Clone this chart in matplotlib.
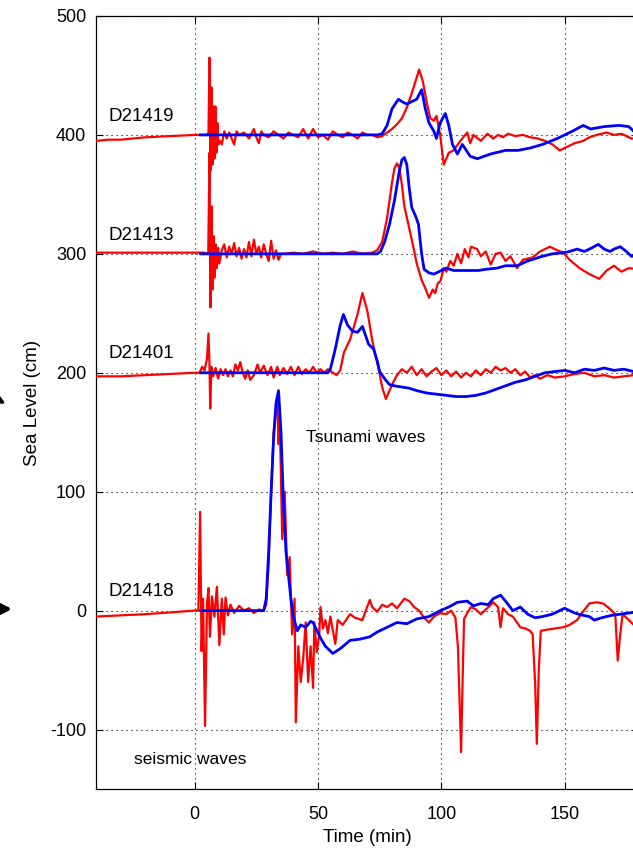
import matplotlib
matplotlib.use("Agg")
import matplotlib.pyplot as plt

plt.rcParams['font.family'] = ['Liberation Sans', 'DejaVu Sans']
plt.rcParams['axes.unicode_minus'] = False

# ---------------- data (values relative to each station's baseline) ----------------
stations = ["D21419", "D21413", "D21401", "D21418"]
offsets = [400, 300, 200, 0]

# observed (red) and model (blue) records, (time min, sea level cm)
d21419_obs = [(-40, -5), (-35, -4), (-30, -4), (-25, -3), (-20, -2), (-10, -1), (0, 0), (2, 0), (4, 0), (5, 0),
              (5.6, 2), (6, 65), (6.4, -30), (6.8, 40), (7.2, -25), (7.6, 24), (8.0, -20), (8.4, 24), (8.8, -15),
              (9.2, 10), (9.6, -8), (10.2, -5), (11, -8), (12, 3), (13, -3), (14, 2), (15, -3), (16, -8), (17, 3),
              (18, 0), (20, 2), (22, -3), (24, 5), (25, -2), (26, -7), (27, 3), (28, 0), (30, -2), (32, 3), (34, 0),
              (36, -3), (38, 2), (40, 0), (42, -2), (44, 5), (46, -3), (48, 5), (50, -2), (52, 0), (54, -4),
              (56, 3), (58, 0), (60, -2), (62, 2), (64, 0), (66, -3), (68, 2), (70, 0), (72, 0), (74, -2),
              (76, -1), (78, 2), (80, 5), (82, 9), (84, 14), (86, 23), (88, 35), (89.5, 45), (91, 55), (92.5, 45),
              (94, 28), (95.5, 14), (97, 12), (98, 16), (99.5, 0), (101, -25), (103, -15), (105, -13),
              (107.7, -5), (110.5, 2), (111.7, -7), (113, 0), (116, -5), (118.7, 1), (121, -3), (123, 0),
              (125, -2), (127, 1), (130, -1), (133, 0), (136, -2), (139, -3), (142, -5), (145, -8), (148, -13),
              (151, -10), (154, -7), (157.5, -5), (160, -2), (163, 0), (167, 2), (170, 0), (173, 1), (177, -3),
              (180, -3)]
d21419_mod = [(2.4, 0), (20, 0), (40, 0), (60, 0), (74, 0), (76, 1), (78, 8), (80, 22), (82.6, 30), (84, 28),
              (86, 26), (88, 28), (90, 30), (92, 38), (93.5, 22), (95, 10), (97, 3), (98, -3), (99.5, 10),
              (101.6, 18), (103, 8), (104.5, -8), (106.5, -16), (108.5, -8), (111.7, -18), (114.6, -20),
              (120, -16), (126, -13), (131, -13), (136, -11), (141, -8), (147, -3), (153, 3), (157.5, 8),
              (160.5, 5), (166, 7), (172, 8), (176, 7), (178, 3), (180, 5)]

d21413_obs = [(-40, 1), (-20, 1), (0, 1), (2, 1), (4, 1), (5.5, 0), (6, 85), (6.4, -45), (6.8, 40), (7.2, -30),
              (7.6, 15), (8, -20), (8.5, 8), (9, -12), (9.5, 5), (10, -8), (11, 3), (12, 8), (13, -3), (14, 6),
              (15, 0), (16, 9), (17, -2), (18, 5), (19, -4), (20, 4), (21, -3), (22, 10), (23, -2), (24, 12),
              (25, 0), (26, 6), (27, -3), (28, 8), (29, 0), (30, -6), (31, 11), (32, -4), (33, 3), (34, -5),
              (35, 0), (36, 0), (40, 1), (44, 0), (48, 2), (52, 0), (56, 1), (60, 0), (64, 2), (68, 0), (72, 1),
              (74, 3), (76, 10), (78, 30), (80, 60), (81, 72), (82, 76), (83, 72), (84, 58), (85, 40), (86.6, 25),
              (88, 12), (90, -8), (92, -22), (93.5, -29), (95, -37), (96.5, -30), (97.5, -33), (98.5, -25),
              (99.6, -23), (101, -12), (102, -15), (103.6, -6), (105, -10), (106.5, 0), (108, -8), (109.5, 4),
              (111, -3), (112, 6), (114.5, 4), (116, -2), (118, 2), (120, -9), (122, 0), (124, 1), (126, -6),
              (128, -2), (130.7, -12), (133, -5), (137, -3), (140, 2), (144, 6), (147, 3), (149.4, 1), (152, -5),
              (156, -12), (160, -17), (164, -21), (167, -14), (170, -10), (173, -15), (176, -12), (180, -13)]
d21413_mod = [(2.4, 0), (20, 0), (40, 0), (60, 0), (74, 0), (75.3, 2), (77, 10), (79, 25), (81, 45), (83, 70),
              (84, 79), (85, 81), (86, 75), (87, 55), (88, 39), (89.5, 32), (90.7, 25), (92, 0), (93, -13),
              (95, -16), (97, -17), (99, -15), (102, -12), (105, -14), (108, -14), (111.6, -14), (115, -14),
              (118, -13), (122.6, -12), (126, -10), (130.7, -10), (135, -6), (138, -4), (141, -2), (145, 0),
              (149.4, 1), (152, 2), (155, 4), (158, 2), (161, 5), (163.6, 8), (166, 4), (168.4, 2), (170, 4),
              (172.5, 6), (175, 2), (177, -2), (180, -2)]

d21401_obs = [(-40, -3), (-30, -3), (-20, -2), (-10, -1), (0, 0), (2, 0), (3, 5), (4, 2), (5, 12), (5.6, 33),
              (6, 8), (6.3, -30), (6.8, 5), (7.5, -3), (8.5, 4), (9.5, -5), (10.5, 3), (11.5, -2), (12.5, 3),
              (13.5, -3), (14.5, 2), (15.5, -3), (16.5, 7), (17.5, 2), (18.5, 9), (19.5, 0), (20.5, -5),
              (21.5, 2), (22.5, -6), (24, -2), (25.5, 7), (26.5, 0), (28, 6), (29.5, -2), (31, 5), (32, -4),
              (33.5, 5), (34.5, -2), (36, 4), (37.5, -1), (39, 5), (40.5, -2), (42, 5), (43.5, -1), (45, 3),
              (46.5, 0), (48, 5), (49.5, 0), (51, 3), (52.5, 0), (54, 3), (56, 0), (57.5, -2), (59, 2),
              (60.5, 17), (63, 28), (66, 49), (68, 67), (70, 52), (72, 27), (74.5, 4), (76, -12), (77.5, -22),
              (79, -15), (80.5, -8), (82, -2), (84, 3), (86, 0), (88, 5), (90, -2), (92, 3), (94, -3), (96, 1),
              (98, 4), (100, -2), (102, 2), (104, -3), (106, 1), (108, -4), (110, 0), (112, -3), (114, 2),
              (116, -2), (118, 3), (120, 0), (122, 5), (124, 2), (126, 4), (128, 0), (130, 3), (132, -2),
              (134, 1), (136, -4), (138, -2), (140, -5), (143, -2), (146, -4), (150, -3), (154, -1), (158, 0),
              (162, -3), (166, -2), (170, -4), (174, -3), (178, -2), (180, -3)]
d21401_mod = [(2.4, 0), (20, 0), (40, 0), (54, 0), (55, 3), (57, 20), (59, 40), (60.3, 49), (62, 40), (64, 35),
              (66, 34), (68, 39), (69, 33), (70.5, 24), (72.5, 20), (74, 10), (75, 1), (77, -5), (79, -10),
              (81, -11), (84, -12), (87, -13), (90, -15), (94, -17), (98, -18), (102, -19), (106, -20),
              (110, -20), (114, -19), (118, -17), (122, -14), (126, -11), (130, -8), (134, -6), (138, -3),
              (142, 0), (146, 1), (150, 2), (154, 0), (158, 3), (162, 2), (166, 4), (170, 2), (174, 3),
              (178, 1), (180, 0)]

d21418_obs = [(-40, -5), (-20, -3), (0, 0), (1.5, 0), (2.2, 83), (2.8, -34), (3.4, 10), (4.2, -97), (5, 6),
              (5.6, 19), (6.2, -22), (7, 12), (8, -5), (9, 20), (10, -29), (11, 10), (11.8, -20), (12.5, 11),
              (13.5, -4), (14.5, 5), (16, -2), (18, 4), (20, 0), (22, 2), (24, -2), (26, 1), (28, 0), (29, 5),
              (30, 40), (31, 100), (32, 150), (33, 170), (33.5, 178), (34, 140), (34.5, 160), (35.5, 60),
              (36.5, 100), (37.5, 30), (38.5, 45), (39.5, -20), (40.5, 10), (41, -94), (42, -30), (43, -60),
              (44, -40), (45, -10), (46, -60), (47, -30), (48, -65), (48.5, -10), (49.5, -35), (50.5, -20),
              (51, 3), (52, -15), (53, -8), (54, -19), (55, -5), (57, -28), (58, -8), (60, -12), (63, -3),
              (65, -6), (68, -8), (69, -2), (71, 9), (72, 3), (74, -1), (76, 5), (78, 3), (80, 6), (82, 2),
              (85, 10), (87, 8), (89, 3), (91, 0), (93, -6), (95, -10), (97, -5), (99.6, -2), (102, -3),
              (104, 0), (105.7, -6), (106.7, -30), (107.3, -70), (108, -119), (108.6, -60), (109.2, -7),
              (110.5, -2), (112, 3), (114, 1), (116, -3), (118.6, 2), (121, 7), (123, 3), (124, -14), (125, 2),
              (127, -3), (129, -5), (132, -14), (134, -15), (136, -17), (137, -20), (138, -60), (138.7, -112),
              (139.5, -50), (140.3, -17), (143, -16), (146, -15), (149.4, -14), (152, -12), (155, -8),
              (157, -2), (160, 6), (163, 7), (165.6, 6), (168, 2), (170.5, -3), (171.5, -42), (172.5, -20),
              (173.5, -3), (176, -8), (178, -12), (180, -14)]
d21418_mod = [(2.4, 0), (15, 0), (28, 0), (29, 10), (30, 50), (31, 100), (32, 145), (33, 175), (34, 185),
              (35, 150), (36, 90), (37, 50), (38, 30), (39, 10), (40, -5), (41.6, -17), (43, -12), (45, -14),
              (47, -9), (48, -10), (51, -23), (53, -30), (56, -36), (59, -32), (63, -25), (67, -24), (71, -22),
              (74, -18), (78, -14), (82, -10), (86, -11), (90, -7), (95, -5), (99.6, 0), (103, 3), (106.5, 7),
              (110.5, 8), (113, 4), (116, 6), (119, 5), (121, 10), (124, 13), (126, 8), (129, 0), (132, 3),
              (135, -3), (138, -6), (141, -5), (145, -3), (150, 2), (154, -2), (157.5, -4), (160, -5),
              (162, -8), (165, -6), (169, -4), (172.5, -3), (176, -2), (180, -1)]

observed = [d21419_obs, d21413_obs, d21401_obs, d21418_obs]
modeled = [d21419_mod, d21413_mod, d21401_mod, d21418_mod]

x_ticks = [0, 50, 100, 150]
y_ticks = [-100, 0, 100, 200, 300, 400, 500]

# ---------------- figure ----------------
W, H = 633, 852
fig = plt.figure(figsize=(W / 100, H / 100), dpi=100)
ax = fig.add_axes([96 / W, 63 / H, 542.7 / W, 773 / H])

for obs, mod, off in zip(observed, modeled, offsets):
    t, v = zip(*obs)
    ax.plot(t, [a + off for a in v], color='#ff0000', lw=1.6, zorder=3)
    t, v = zip(*mod)
    ax.plot(t, [a + off for a in v], color='#0000ff', lw=2.0, zorder=4)

ax.set_xlim(-40, 180)
ax.set_ylim(-150, 500)
ax.set_xticks(x_ticks)
ax.set_yticks(y_ticks)
ax.grid(True, color='black', linestyle=(0, (1, 3.5)), linewidth=0.8)
ax.set_axisbelow(True)
ax.tick_params(direction='in', length=5, width=0.8, labelsize=13, top=True, right=True)
ax.tick_params(axis='y', pad=7)
ax.tick_params(axis='x', pad=12)
for s in ax.spines.values():
    s.set_linewidth(0.9)

ax.set_xlabel("Time (min)", fontsize=13.5)
ax.set_ylabel("Sea Level (cm)", fontsize=13.5)
ax.xaxis.set_label_coords(0.5, -(838 - 789) / 773)
ax.yaxis.set_label_coords((32 - 96) / 542.7, 0.5)
ax.xaxis.label.set_va('center')
ax.yaxis.label.set_va('center')

label_pos = [(-35, 412), (-35, 312), (-35, 212), (-35, 12)]
for name, (lx, ly) in zip(stations, label_pos):
    ax.text(lx, ly, name, fontsize=13.5, va='baseline', ha='left')
ax.text(45, 142, "Tsunami waves", fontsize=12.5, va='baseline', ha='left')
ax.text(-24.7, -128.6, "seismic waves", fontsize=12.5, va='baseline', ha='left')

# partial arrows at left edge
ax.annotate("", xy=(8, H - 405), xytext=(-30, H - 385), xycoords='figure pixels',
            textcoords='figure pixels',
            arrowprops=dict(arrowstyle='-|>', color='black', lw=2, mutation_scale=22))
ax.annotate("", xy=(15, H - 609), xytext=(-30, H - 609), xycoords='figure pixels',
            textcoords='figure pixels',
            arrowprops=dict(arrowstyle='-|>', color='black', lw=3, mutation_scale=24))

fig.savefig("out.png", dpi=100)
